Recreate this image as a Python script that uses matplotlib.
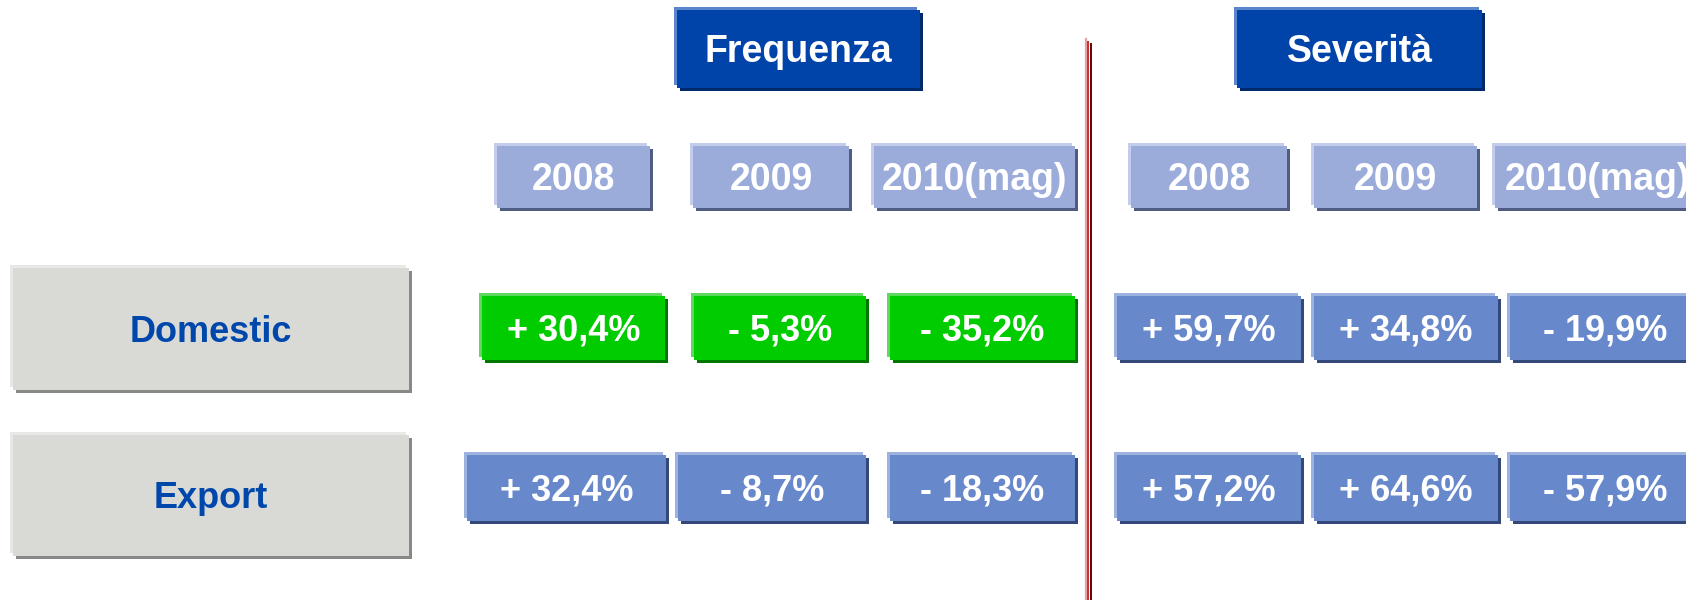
import matplotlib
matplotlib.use('Agg')
import matplotlib.pyplot as plt
from matplotlib.patches import Rectangle

plt.rcParams['font.family'] = ['Liberation Sans', 'DejaVu Sans']

# data
sections = ['Frequenza', 'Severità']
years = ['2008', '2009', '2010(mag)']
rows = ['Domestic', 'Export']
freq_domestic = [30.4, -5.3, -35.2]
freq_export = [32.4, -8.7, -18.3]
sev_domestic = [59.7, 34.8, -19.9]
sev_export = [57.2, 64.6, -57.9]
values = {('Frequenza', 'Domestic'): freq_domestic,
          ('Frequenza', 'Export'): freq_export,
          ('Severità', 'Domestic'): sev_domestic,
          ('Severità', 'Export'): sev_export}
highlighted = [('Frequenza', 'Domestic')]

# layout (pixels, y from the top)
W, H = 1686, 600
head_x = {'Frequenza': (677, 920), 'Severità': (1237, 1482)}
head_y = (10, 88)
year_x = {'Frequenza': [(497, 650), (693, 849), (874, 1075)],
          'Severità': [(1131, 1287), (1314, 1477), (1495, 1700)]}
year_y = (146, 208)
val_x = {('Frequenza', 'Domestic'): [(482, 665), (694, 866), (890, 1075)],
         ('Frequenza', 'Export'): [(467, 666), (678, 866), (890, 1075)],
         ('Severità', 'Domestic'): [(1117, 1301), (1314, 1498), (1510, 1700)],
         ('Severità', 'Export'): [(1117, 1301), (1314, 1498), (1510, 1700)]}
val_y = {'Domestic': (296, 360), 'Export': (455, 521)}
label_x = (13, 409)
label_y = {'Domestic': (268, 390), 'Export': (435, 556)}

# styles: fill, highlight, shadow
st_head = ('#0044AA', '#5B86CC', '#002A6B')
st_year = ('#9BACDB', '#C3CDEB', '#4F5D82')
st_val = ('#6888CC', '#9EB2E0', '#34497A')
st_green = ('#00CC00', '#5FD85F', '#007800')
st_label = ('#D9D9D5', '#E8E8E6', '#888886')


def fmt(v):
    s = '+' if v >= 0 else '-'
    return s + ' ' + ('%.1f' % abs(v)).replace('.', ',') + '%'


def box(ax, xr, yr, style, off=3):
    x0, x1 = xr
    y0, y1 = yr
    fill, light, dark = style
    ax.add_patch(Rectangle((x0 - off, y0 - off), x1 - x0, y1 - y0, color=light, lw=0))
    ax.add_patch(Rectangle((x0 + off, y0 + off), x1 - x0, y1 - y0, color=dark, lw=0))
    ax.add_patch(Rectangle((x0, y0), x1 - x0, y1 - y0, color=fill, lw=0))


def label(ax, xr, yr, txt, size, color='white'):
    cx = (xr[0] + xr[1]) / 2
    cy = (yr[0] + yr[1]) / 2
    cap = 0.716 * size * 100 / 72
    ax.text(cx, cy + cap / 2, txt, ha='center', va='baseline', fontsize=size,
            fontweight='bold', color=color)


fig = plt.figure(figsize=(W / 100, H / 100), dpi=100)
ax = fig.add_axes([0, 0, 1, 1])
ax.set_xlim(0, W)
ax.set_ylim(H, 0)
ax.axis('off')

# divider line
ax.plot([1085.6, 1085.6], [39, H], color='#E8A0A0', lw=1.6)
ax.plot([1088.3, 1088.3], [42, H], color='#C0302F', lw=1.4)
ax.plot([1091.4, 1091.4], [44, H], color='#6B0000', lw=1.4)

for sec in sections:
    box(ax, head_x[sec], head_y, st_head)
    label(ax, head_x[sec], head_y, sec, 27)
    for i, yr in enumerate(years):
        box(ax, year_x[sec][i], year_y, st_year)
        label(ax, year_x[sec][i], year_y, yr, 27)
    for r in rows:
        st = st_green if (sec, r) in highlighted else st_val
        for i, v in enumerate(values[(sec, r)]):
            box(ax, val_x[(sec, r)][i], val_y[r], st)
            label(ax, val_x[(sec, r)][i], val_y[r], fmt(v), 26)

for r in rows:
    box(ax, label_x, label_y[r], st_label)
    label(ax, label_x, label_y[r], r, 26, color='#0047AB')

fig.savefig('out.png', dpi=100)
